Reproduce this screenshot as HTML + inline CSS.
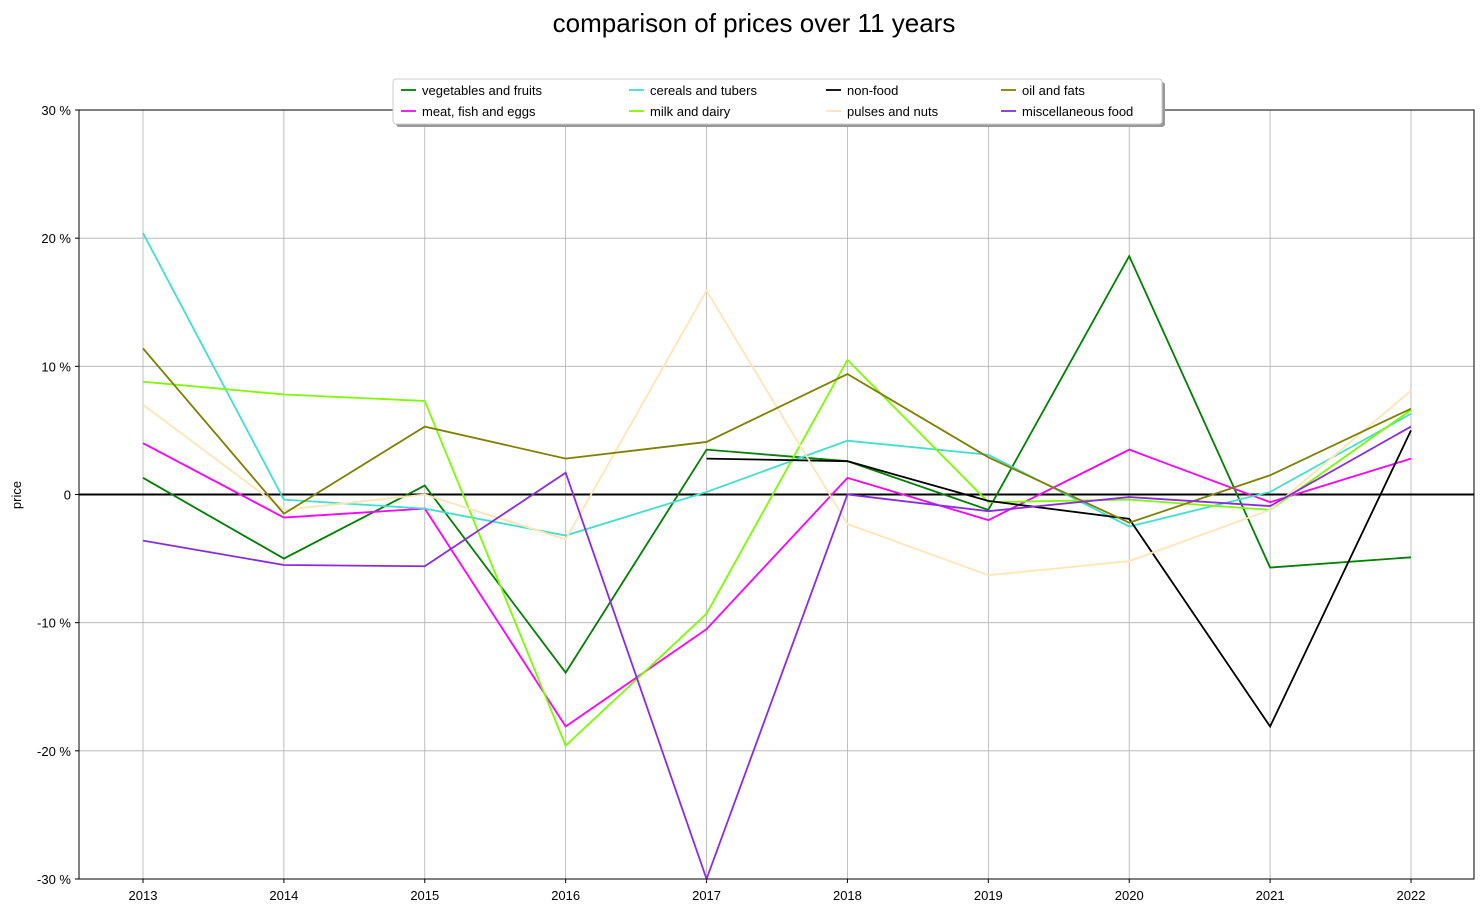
<!DOCTYPE html>
<html><head><meta charset="utf-8"><style>
body{margin:0;background:#fff;}
svg{display:block;font-family:"Liberation Sans","DejaVu Sans",sans-serif;}
</style></head><body>
<svg id="chart" width="1484" height="913">
<text x="754" y="32" font-size="26" text-anchor="middle">comparison of prices over 11 years</text>
<g id="grid"></g>
<g id="axes"></g>
<g id="series"></g>
<rect x="79" y="110" width="1395" height="769" fill="none" stroke="#000" stroke-width="1"/>
<text x="21" y="495" font-size="13" text-anchor="middle" transform="rotate(-90 21 495)">price</text>
<g id="legend"></g>
</svg>
<script>
const years=[2013,2014,2015,2016,2017,2018,2019,2020,2021,2022];
const yTicks=[30,20,10,0,-10,-20,-30];
const yTickLabels=["30 %","20 %","10 %","0","-10 %","-20 %","-30 %"];
const seriesNames=["vegetables and fruits","meat, fish and eggs","cereals and tubers","milk and dairy","non-food","pulses and nuts","oil and fats","miscellaneous food"];
const seriesColors=["#008000","#ff00ff","#40e0d0","#7cfc00","#000000","#ffe4b5","#808000","#8a2be2"];
const vegetables=[1.3,-5.0,0.7,-13.9,3.5,2.6,-1.2,18.6,-5.7,-4.9];
const meat=[4.0,-1.8,-1.1,-18.1,-10.5,1.3,-2.0,3.5,-0.6,2.8];
const cereals=[20.4,-0.4,-1.1,-3.2,0.2,4.2,3.1,-2.5,0.2,6.3];
const milk=[8.8,7.8,7.3,-19.6,-9.3,10.5,-0.6,-0.4,-1.2,6.6];
const nonfood=[null,null,null,null,2.8,2.6,-0.5,-1.9,-18.1,5.0];
const pulses=[7.0,-1.2,0.0,-3.5,15.9,-2.3,-6.3,-5.2,-1.2,8.1];
const oil=[11.4,-1.5,5.3,2.8,4.1,9.4,2.9,-2.2,1.5,6.7];
const misc=[-3.6,-5.5,-5.6,1.7,-30,0.0,-1.3,-0.2,-0.9,5.3];
const allSeries=[vegetables,meat,cereals,milk,nonfood,pulses,oil,misc];
const NS="http://www.w3.org/2000/svg";
function X(i){return 143+i*(1411-143)/(years.length-1);}
function Y(v){return 494.5-v*(769/60);}
function mk(t,a,p){const e=document.createElementNS(NS,t);for(const k in a)e.setAttribute(k,a[k]);p.appendChild(e);return e;}
const grid=document.getElementById('grid'),axes=document.getElementById('axes'),ser=document.getElementById('series'),leg=document.getElementById('legend');
years.forEach((yr,i)=>{
 const g=mk('line',{x1:X(i),x2:X(i),y1:110,y2:879,stroke:'#b0b0b0','stroke-width':0.8},grid);
 
 
 mk('line',{x1:X(i),x2:X(i),y1:879,y2:883,stroke:'#000'},axes);
 const t=mk('text',{x:X(i),y:900,'font-size':13,'text-anchor':'middle'},axes);t.textContent=yr;
 
 
});
yTicks.forEach((v,i)=>{
 const g=mk('line',{x1:79,x2:1474,y1:Y(v),y2:Y(v),stroke:'#b0b0b0','stroke-width':0.8},grid);
 
 
 mk('line',{x1:75,x2:79,y1:Y(v),y2:Y(v),stroke:'#000'},axes);
 const t=mk('text',{x:71,y:Y(v)+5,'font-size':13,'text-anchor':'end'},axes);t.textContent=yTickLabels[i];
 
 
});
const z=mk('line',{x1:79,x2:1474,y1:Y(0),y2:Y(0),stroke:'#000','stroke-width':2},axes);


allSeries.forEach((s,k)=>{
 let d='',pen=false;
 s.forEach((v,i)=>{if(v===null){pen=false;return;}d+=(pen?'L':'M')+X(i)+' '+Y(v)+' ';pen=true;});
 const p=mk('path',{d:d,fill:'none',stroke:seriesColors[k],'stroke-width':1.8},ser);
 
 
});
mk('rect',{x:396,y:82,width:769,height:45,fill:'#999',rx:3},leg);
const box=mk('rect',{x:393,y:79,width:769,height:45,fill:'#fff',stroke:'#ccc',rx:3},leg);


const colX=[422,650,847,1022];
seriesNames.forEach((n,k)=>{
 const c=Math.floor(k/2),r=k%2,yy=90+r*21,xx=colX[c];
 const g=mk('g',{},leg);
 
 
 mk('line',{x1:xx-21,x2:xx-6,y1:yy,y2:yy,stroke:seriesColors[k],'stroke-width':1.8},g);
 const t=mk('text',{x:xx,y:yy+5,'font-size':13},g);t.textContent=n;
});
</script>
</body></html>
